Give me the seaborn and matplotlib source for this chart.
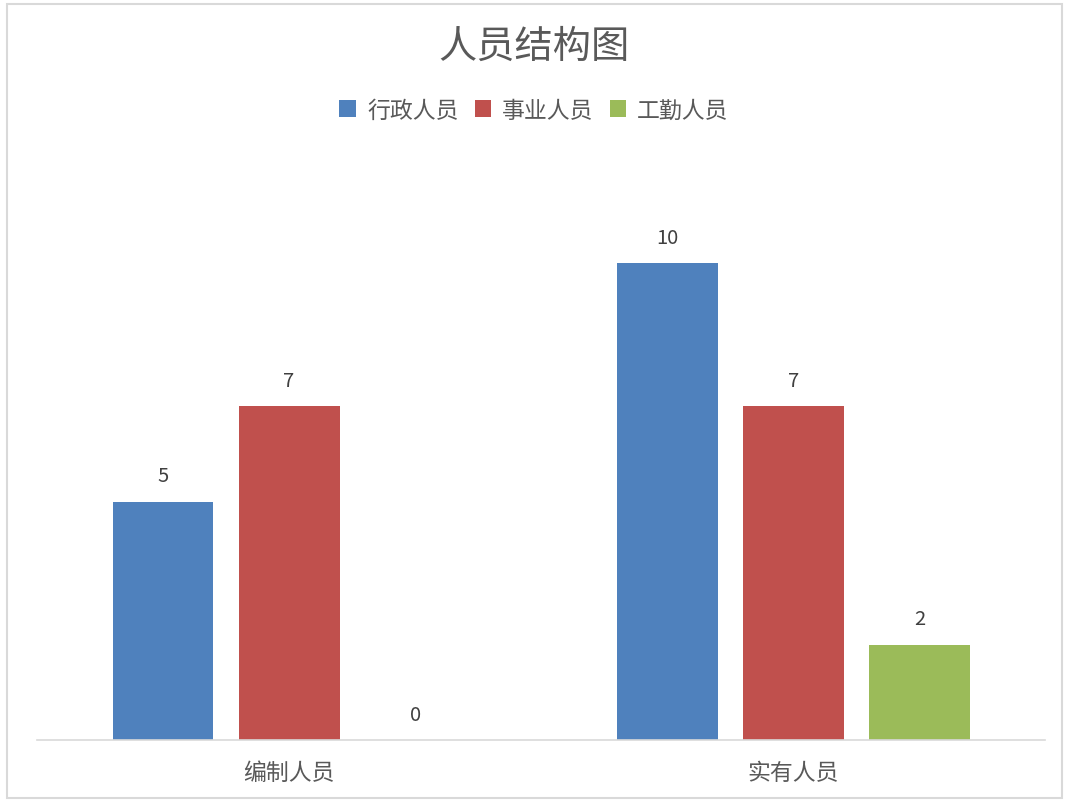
import seaborn as sns
import pandas as pd
import matplotlib.pyplot as plt
from matplotlib.patches import Rectangle

categories = ['编制人员', '实有人员']
series = ['行政人员', '事业人员', '工勤人员']
admin_staff = [5, 10]
career_staff = [7, 7]
service_staff = [0, 2]
colors = ['#4F81BD', '#C0504D', '#9BBB59']

rows = []
for name, vals in zip(series, [admin_staff, career_staff, service_staff]):
    for cat, v in zip(categories, vals):
        rows.append({'类别': cat, '人员': name, '人数': v})
df = pd.DataFrame(rows)

sns.set_style('white')
plt.rcParams['font.family'] = ['Noto Sans CJK SC', 'DejaVu Sans']

fig = plt.figure(figsize=(10.68, 8.03), dpi=100)
ax = fig.add_axes([0.0346, 0.0772, 0.9443, 0.7123])

sns.barplot(df, x='类别', y='人数', hue='人员', palette=colors, width=0.75,
            gap=0.2, saturation=1, linewidth=0, ax=ax)

for c in ax.containers:
    ax.bar_label(c, padding=11, fontsize=14.5, color='#404040')

ax.set_ylim(0, 12)
ax.set_xlim(-0.5, 1.5)
ax.set_yticks([])
ax.set_xlabel('')
ax.set_ylabel('')
ax.tick_params(axis='x', length=0, labelsize=16.5, labelcolor='#595959', pad=15)
for s in ['top', 'right', 'left']:
    ax.spines[s].set_visible(False)
ax.spines['bottom'].set_color('#D9D9D9')
ax.spines['bottom'].set_linewidth(1.2)

ax.legend(loc='center', bbox_to_anchor=(0.5, 1 - 111 / 803), bbox_transform=fig.transFigure,
          ncol=3, frameon=False, fontsize=16.5, handlelength=0.7, handleheight=0.7,
          handletextpad=0.5, columnspacing=0.7, labelcolor='#595959')

fig.text(0.5, 1 - 47 / 803, '人员结构图', ha='center', va='center', fontsize=27.5, color='#595959')

fig.patches.append(Rectangle((7 / 1068, 4 / 803), 1055 / 1068, 794 / 803, transform=fig.transFigure,
                             fill=False, edgecolor='#D9D9D9', linewidth=1.5))

fig.savefig('out.png', dpi=100)
